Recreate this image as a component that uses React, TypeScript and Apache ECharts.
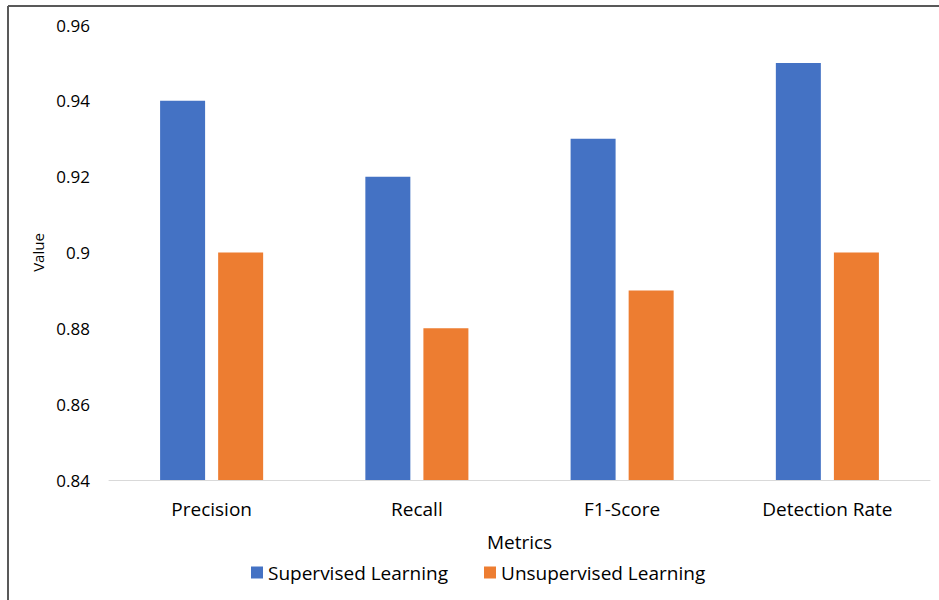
import React, { useEffect, useRef } from "react";
import * as echarts from "echarts";

const categories = ["Precision", "Recall", "F1-Score", "Detection Rate"];
const supervised = [0.94, 0.92, 0.93, 0.95];
const unsupervised = [0.9, 0.88, 0.89, 0.9];
const seriesNames = ["Supervised Learning", "Unsupervised Learning"];

const FONT = "'Open Sans', 'Noto Sans', sans-serif";

export default function App() {
  const ref = useRef<HTMLDivElement>(null);
  useEffect(() => {
    const chart = echarts.init(ref.current!, undefined, { renderer: "svg" });
    chart.setOption({
      animation: false,
      backgroundColor: "#ffffff",
      textStyle: { fontFamily: FONT },
      grid: { left: 109, right: 9, top: 25, bottom: 120 },
      legend: {
        data: seriesNames,
        top: 558,
        left: 246,
        itemWidth: 12,
        itemHeight: 12,
        itemGap: 36,
        icon: "rect",
        textStyle: { fontSize: 19, color: "#000", fontFamily: FONT },
      },
      xAxis: {
        type: "category",
        data: categories,
        name: "Metrics",
        nameLocation: "middle",
        nameGap: 52,
        nameTextStyle: { fontSize: 19, color: "#000", fontFamily: FONT },
        axisLine: { lineStyle: { color: "#d9d9d9", width: 1 } },
        axisTick: { show: false },
        axisLabel: { fontSize: 19, color: "#000", margin: 19, fontFamily: FONT },
      },
      yAxis: {
        type: "value",
        min: 0.84,
        max: 0.96,
        interval: 0.02,
        name: "Value",
        nameLocation: "middle",
        nameGap: 61,
        nameTextStyle: { fontSize: 15, color: "#000", fontFamily: FONT },
        axisLine: { show: false },
        axisTick: { show: false },
        splitLine: { show: false },
        axisLabel: {
          fontSize: 17,
          color: "#000",
          margin: 19,
          fontFamily: FONT,
          formatter: (v: number) => String(parseFloat(v.toFixed(2))),
        },
      },
      series: [
        {
          name: seriesNames[0],
          type: "bar",
          data: supervised,
          barWidth: 45,
          barGap: "29%",
          itemStyle: { color: "#4472C4" },
        },
        {
          name: seriesNames[1],
          type: "bar",
          data: unsupervised,
          barWidth: 45,
          barGap: "29%",
          itemStyle: { color: "#ED7D31" },
        },
      ],
      graphic: [
        { type: "line", shape: { x1: 8, y1: 6, x2: 939, y2: 6 }, style: { stroke: "#595959", lineWidth: 2 } },
        { type: "line", shape: { x1: 8, y1: 6, x2: 8, y2: 600 }, style: { stroke: "#595959", lineWidth: 2 } },
      ],
    });
    return () => chart.dispose();
  }, []);
  return (
    <div
      ref={ref}
      style={{ position: "fixed", left: 0, top: 0, width: 939, height: 600 }}
    />
  );
}
